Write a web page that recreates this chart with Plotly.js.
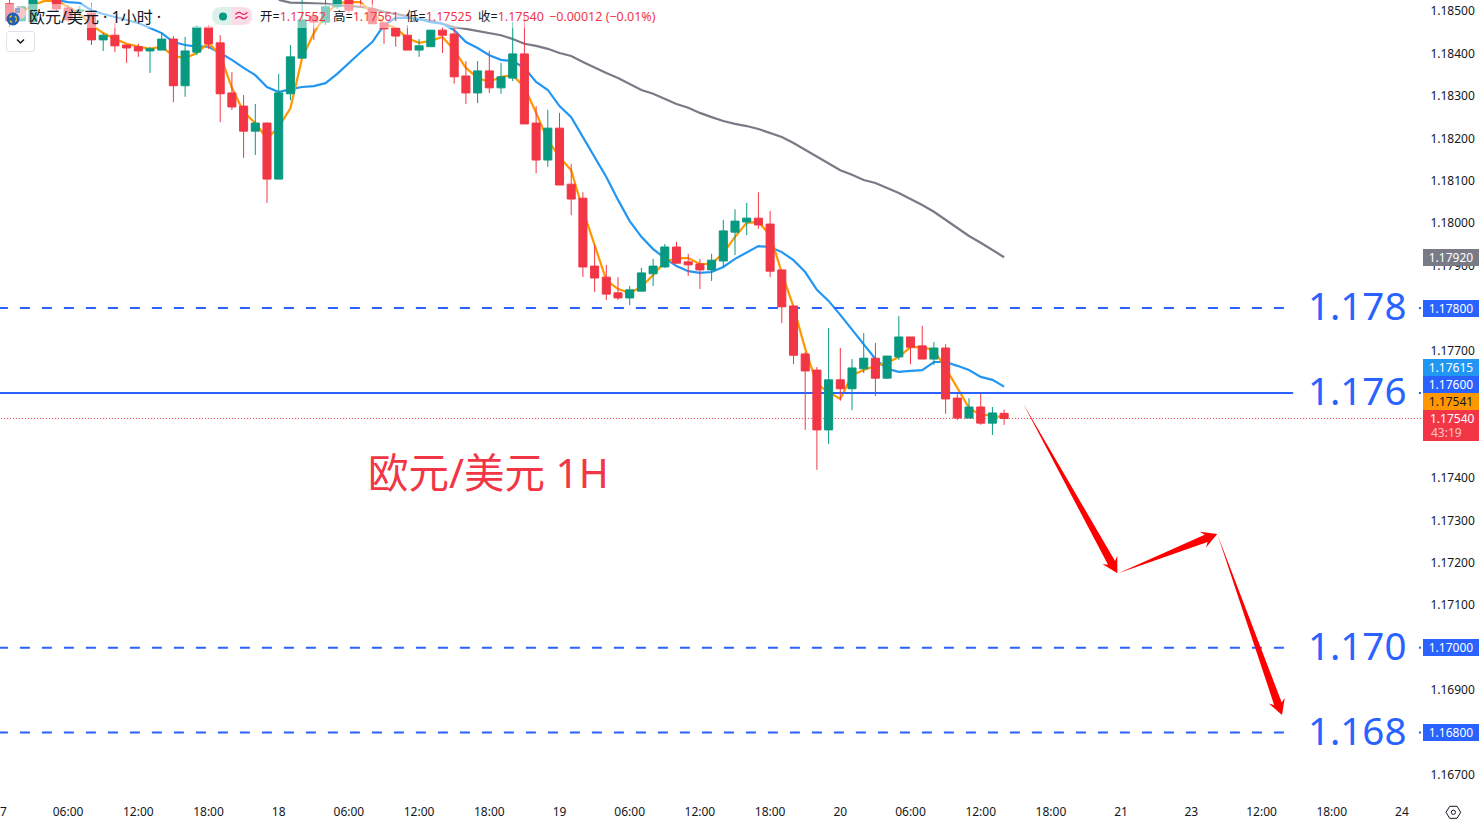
<!DOCTYPE html>
<html><head><meta charset="utf-8">
<script src="https://cdn.plot.ly/plotly-3.0.1.min.js"></script>
<style>html,body{margin:0;padding:0;background:#fff;overflow:hidden}</style>
</head><body><div id="chart" style="width:1482px;height:824px"></div>
<script>
const firstHour = -23;
const openPrices = [1.18517,1.18477,1.18474,1.18560,1.18540,1.18507,1.18500,1.18495,1.18432,1.18443,1.18420,1.18416,1.18406,1.18408,1.18434,1.18324,1.18403,1.18462,1.18425,1.18307,1.18276,1.18217,1.18236,1.18104,1.18305,1.18389,1.18488,1.18474,1.18510,1.18540,1.18545,1.18505,1.18472,1.18460,1.18443,1.18408,1.18416,1.18455,1.18446,1.18347,1.18307,1.18359,1.18319,1.18342,1.18399,1.18236,1.18149,1.18224,1.18092,1.18059,1.17899,1.17873,1.17836,1.17824,1.17840,1.17881,1.17897,1.17944,1.17909,1.17904,1.17890,1.17911,1.17979,1.18003,1.18012,1.17998,1.17890,1.17805,1.17692,1.17654,1.17513,1.17631,1.17610,1.17657,1.17682,1.17635,1.17685,1.17732,1.17711,1.17680,1.17706,1.17588,1.17541,1.17567,1.17529,1.17552];
const highPrices = [1.18530,1.18512,1.18545,1.18570,1.18550,1.18514,1.18512,1.18519,1.18448,1.18472,1.18420,1.18423,1.18416,1.18450,1.18441,1.18439,1.18467,1.18467,1.18443,1.18356,1.18302,1.18281,1.18238,1.18352,1.18420,1.18535,1.18488,1.18530,1.18545,1.18550,1.18550,1.18530,1.18472,1.18460,1.18467,1.18434,1.18455,1.18462,1.18460,1.18382,1.18382,1.18406,1.18378,1.18474,1.18488,1.18276,1.18267,1.18260,1.18140,1.18073,1.17949,1.17902,1.17873,1.17852,1.17895,1.17916,1.17951,1.17956,1.17928,1.17916,1.17928,1.18008,1.18033,1.18048,1.18073,1.18029,1.17890,1.17805,1.17696,1.17661,1.17753,1.17706,1.17680,1.17741,1.17718,1.17687,1.17781,1.17732,1.17758,1.17720,1.17715,1.17598,1.17588,1.17598,1.17567,1.17561];
const lowPrices = [1.18462,1.18475,1.18472,1.18535,1.18500,1.18475,1.18486,1.18420,1.18406,1.18403,1.18378,1.18392,1.18354,1.18408,1.18285,1.18298,1.18396,1.18411,1.18238,1.18267,1.18154,1.18161,1.18048,1.18104,1.18290,1.18389,1.18432,1.18467,1.18505,1.18495,1.18507,1.18470,1.18423,1.18416,1.18408,1.18392,1.18416,1.18401,1.18329,1.18281,1.18283,1.18307,1.18305,1.18335,1.18234,1.18118,1.18133,1.18090,1.18019,1.17873,1.17838,1.17819,1.17819,1.17807,1.17840,1.17852,1.17895,1.17904,1.17876,1.17845,1.17864,1.17897,1.17925,1.17972,1.17987,1.17873,1.17765,1.17668,1.17513,1.17419,1.17480,1.17582,1.17560,1.17647,1.17593,1.17633,1.17678,1.17668,1.17680,1.17666,1.17551,1.17536,1.17541,1.17525,1.17501,1.17525];
const closePrices = [1.18477,1.18510,1.18540,1.18545,1.18505,1.18479,1.18502,1.18432,1.18443,1.18418,1.18413,1.18406,1.18411,1.18434,1.18324,1.18406,1.18462,1.18423,1.18305,1.18274,1.18217,1.18236,1.18104,1.18307,1.18392,1.18479,1.18474,1.18510,1.18535,1.18502,1.18535,1.18470,1.18458,1.18441,1.18408,1.18418,1.18455,1.18443,1.18345,1.18307,1.18359,1.18319,1.18345,1.18399,1.18234,1.18149,1.18224,1.18090,1.18057,1.17897,1.17871,1.17833,1.17824,1.17843,1.17883,1.17899,1.17944,1.17906,1.17902,1.17890,1.17913,1.17982,1.18005,1.18012,1.17996,1.17887,1.17803,1.17689,1.17652,1.17513,1.17631,1.17610,1.17659,1.17682,1.17635,1.17687,1.17732,1.17708,1.17680,1.17706,1.17586,1.17541,1.17567,1.17529,1.17553,1.17540];
const orangeMA = [1.18502,1.18498,1.18514,1.18524,1.18524,1.18510,1.18493,1.18467,1.18448,1.18434,1.18423,1.18416,1.18411,1.18416,1.18394,1.18389,1.18401,1.18425,1.18396,1.18319,1.18262,1.18236,1.18199,1.18227,1.18271,1.18389,1.18448,1.18491,1.18519,1.18521,1.18521,1.18495,1.18470,1.18460,1.18436,1.18425,1.18430,1.18439,1.18408,1.18366,1.18342,1.18333,1.18345,1.18349,1.18321,1.18260,1.18196,1.18156,1.18125,1.18031,1.17946,1.17866,1.17845,1.17836,1.17850,1.17878,1.17909,1.17918,1.17918,1.17904,1.17904,1.17930,1.17968,1.18001,1.18003,1.17972,1.17883,1.17803,1.17704,1.17621,1.17602,1.17586,1.17642,1.17654,1.17664,1.17671,1.17685,1.17708,1.17708,1.17701,1.17659,1.17612,1.17565,1.17548,1.17548,1.17541];
const blueMA = [null,null,null,null,1.18526,1.18521,1.18519,1.18502,1.18493,1.18486,1.18479,1.18472,1.18460,1.18448,1.18427,1.18420,1.18416,1.18416,1.18401,1.18385,1.18366,1.18349,1.18321,1.18309,1.18316,1.18321,1.18323,1.18330,1.18352,1.18378,1.18403,1.18427,1.18467,1.18484,1.18484,1.18481,1.18474,1.18470,1.18455,1.18427,1.18413,1.18396,1.18385,1.18382,1.18366,1.18333,1.18314,1.18276,1.18250,1.18203,1.18156,1.18109,1.18055,1.18005,1.17968,1.17939,1.17918,1.17899,1.17887,1.17883,1.17885,1.17897,1.17916,1.17932,1.17946,1.17944,1.17932,1.17913,1.17885,1.17843,1.17817,1.17784,1.17749,1.17713,1.17680,1.17657,1.17650,1.17652,1.17654,1.17673,1.17673,1.17664,1.17654,1.17638,1.17631,1.17615];
const greyMA = [null,null,null,null,null,null,null,null,null,null,null,null,null,null,null,null,null,null,null,null,null,null,null,1.18526,1.18520,1.18519,1.18518,1.18517,1.18514,1.18512,1.18510,1.18505,1.18498,1.18493,1.18488,1.18481,1.18477,1.18470,1.18462,1.18458,1.18453,1.18448,1.18443,1.18434,1.18423,1.18418,1.18411,1.18401,1.18394,1.18380,1.18366,1.18354,1.18342,1.18328,1.18314,1.18305,1.18293,1.18281,1.18272,1.18260,1.18250,1.18241,1.18234,1.18229,1.18222,1.18213,1.18203,1.18189,1.18173,1.18156,1.18140,1.18125,1.18114,1.18102,1.18095,1.18083,1.18071,1.18057,1.18043,1.18027,1.18008,1.17989,1.17970,1.17954,1.17937,1.17920];

const xTickHours = [-18,-12,-6,0,6,12,18,24,30,36,42,48,54,60,66,72,78,84,90,96];
const xTickLabels = ['06:00','12:00','18:00','18','06:00','12:00','18:00','19','06:00','12:00','18:00','20','06:00','12:00','18:00','21','23','12:00','18:00','24'];
const yTickPrices = [1.185,1.184,1.183,1.182,1.181,1.18,1.179,1.177,1.174,1.173,1.172,1.171,1.169,1.167];
const dashedLevels = [1.178,1.17,1.168];
const dashedLabels = ['1.178','1.170','1.168'];
const solidLevel = 1.176;
const solidLabel = '1.176';
const lastPrice = 1.1754;
const arrowTailHour = [63.62,71.76,80.24];
const arrowTailPrice = [1.17575,1.17175,1.17266];
const arrowTipHour = [71.68,80.22,85.75];
const arrowTipPrice = [1.17175,1.17268,1.16841];
const badgeTexts = ['1.17920','1.17800','1.17615','1.17600','1.17541','1.16800','1.17000'];
const badgeColors = ['#787b86','#2962ff','#2196f3','#2962ff','#ff9800','#2962ff','#2962ff'];
const badgeInk = ['#fff','#fff','#fff','#fff','#131722','#fff','#fff'];
const badgeRows = [257.5,308.5,367.5,384.5,401.5,732.5,647.5];

const xRange = [-23.82,97.63], yRange = [1.16641,1.18526];
const plotW = 1421, plotH = 800, RED = '#f23645', GREEN = '#089981', BLUE = '#2962ff';
const FONT = '"Noto Sans","Noto Sans CJK SC",sans-serif';
const hours = openPrices.map((_, k) => k + firstHour);
const px = v => v / plotW, py = v => 1 - v / plotH;

function arrow(k) {
  const sx = plotW / (xRange[1] - xRange[0]), sy = plotH / (yRange[1] - yRange[0]);
  const dx = (arrowTipHour[k] - arrowTailHour[k]) * sx, dy = (arrowTipPrice[k] - arrowTailPrice[k]) * sy;
  const len = Math.hypot(dx, dy), ux = dx / len, uy = dy / len, nx = -uy, ny = ux;
  const at = (back, side) => [arrowTipHour[k] + (-ux * back + nx * side) / sx, arrowTipPrice[k] + (-uy * back + ny * side) / sy];
  const pts = [[arrowTailHour[k], arrowTailPrice[k]], at(12, 4), at(15.5, 8.5), [arrowTipHour[k], arrowTipPrice[k]], at(15.5, -8.5), at(12, -4), [arrowTailHour[k], arrowTailPrice[k]]];
  return {type:'scatter', mode:'lines', x:pts.map(p=>p[0]), y:pts.map(p=>p[1]), fill:'toself', fillcolor:'#ff0000',
    line:{width:0,color:'#ff0000'}, xaxis:'x2', yaxis:'y2', hoverinfo:'skip', showlegend:false};
}
const line = (x, y, color, width, dash) => ({type:'scatter', mode:'lines', x, y, line:{color, width, dash:dash||'solid'}, hoverinfo:'skip', showlegend:false, connectgaps:false});

const traces = [
  line(hours, greyMA, '#787b86', 2.2),
  line(hours, blueMA, '#2196f3', 2.2),
  line(hours, orangeMA, '#ff9800', 2.2),
  line([-24,97.63], [lastPrice,lastPrice], RED, 1, '1px,2px'),
  line([-24,86.7,null,97.45,97.63], [solidLevel,solidLevel,null,solidLevel,solidLevel], BLUE, 2),
];
dashedLevels.forEach(v => traces.push(line([-24,86.4,null,97.45,97.63], [v,v,null,v,v], BLUE, 2, '10px,12px')));
traces.push({type:'candlestick', x:hours, open:openPrices, high:highPrices, low:lowPrices, close:closePrices,
  xaxis:'x2', yaxis:'y2', whiskerwidth:0, hoverinfo:'skip', showlegend:false,
  increasing:{line:{color:GREEN,width:1}, fillcolor:GREEN}, decreasing:{line:{color:RED,width:1}, fillcolor:RED}});
[0,1,2].forEach(k => traces.push(arrow(k)));

const shapes = [];
const pshape = (o) => shapes.push(Object.assign({xref:'paper', yref:'paper', layer:'above'}, o));
const P = (x, y) => px(x) + ',' + py(y);
// translucent legend backdrop
pshape({type:'rect', x0:px(0), x1:px(660), y0:py(4), y1:py(28), fillcolor:'rgba(255,255,255,0.5)', line:{width:0}});
// US flag + euro flag icon
pshape({type:'circle', x0:px(14), x1:px(26), y0:py(7), y1:py(19), fillcolor:'#f3c9c9', line:{width:0}});
pshape({type:'rect', x0:px(15), x1:px(20), y0:py(8), y1:py(13), fillcolor:'#8fa6d6', line:{width:0}});
pshape({type:'circle', x0:px(6.5), x1:px(19.5), y0:py(12.5), y1:py(25.5), fillcolor:'#1f5fb4', line:{width:0}});
pshape({type:'circle', x0:px(9.5), x1:px(16.5), y0:py(15.5), y1:py(22.5), fillcolor:'rgba(0,0,0,0)', line:{color:'#f5c518',width:1.2,dash:'dot'}});
// dropdown button
pshape({type:'path', path:`M ${P(9,31.5)} L ${P(32,31.5)} Q ${P(34.5,31.5)} ${P(34.5,34)} L ${P(34.5,49)} Q ${P(34.5,51.5)} ${P(32,51.5)} L ${P(9,51.5)} Q ${P(6.5,51.5)} ${P(6.5,49)} L ${P(6.5,34)} Q ${P(6.5,31.5)} ${P(9,31.5)} Z`, fillcolor:'#fff', line:{color:'#e0e3eb',width:1}});
pshape({type:'path', path:`M ${P(17,39.5)} L ${P(20.5,43)} L ${P(24,39.5)}`, line:{color:'#131722',width:1.5}});
// status pill
pshape({type:'path', path:`M ${P(232,7)} L ${P(221,7)} Q ${P(212,7)} ${P(212,16)} Q ${P(212,25)} ${P(221,25)} L ${P(232,25)} Z`, fillcolor:'#dcf1ec', line:{width:0}});
pshape({type:'path', path:`M ${P(232,7)} L ${P(243,7)} Q ${P(252,7)} ${P(252,16)} Q ${P(252,25)} ${P(243,25)} L ${P(232,25)} Z`, fillcolor:'#fbdde7', line:{width:0}});
pshape({type:'circle', x0:px(219), x1:px(227), y0:py(12.5), y1:py(20.5), fillcolor:GREEN, line:{width:0}});
// settings hexagon
pshape({type:'path', path:`M ${P(1446,812.3)} L ${P(1449.7,806.3)} L ${P(1457,806.3)} L ${P(1460.7,812.3)} L ${P(1457,818.3)} L ${P(1449.7,818.3)} Z`, line:{color:'#131722',width:1}});
pshape({type:'circle', x0:px(1451.3), x1:px(1455.5), y0:py(810.2), y1:py(814.4), line:{color:'#131722',width:1}});
// countdown badge backdrop
pshape({type:'rect', x0:px(1423), x1:px(1479), y0:py(410), y1:py(441), fillcolor:RED, line:{width:0}});

const ann = [];
const note = (x, y, text, size, color, anchor, extra) => ann.push(Object.assign({xref:'paper', yref:'paper', x:px(x), y:py(y), text, showarrow:false,
  xanchor:anchor||'left', yanchor:'middle', borderpad:0, borderwidth:0, font:{family:FONT, size, color}}, extra||{}));
const red = s => `<span style="color:${RED}">${s}</span>`;
note(29, 17.5, '欧元/美元 · 1小时 ·', 16, '#131722');
note(241.5, 15.5, '≈', 17, '#e91e63', 'center');
note(260, 17, '开=' + red('1.17552'), 12.5, '#131722');
note(332.5, 17, '高=' + red('1.17561'), 12.5, '#131722');
note(405.5, 17, '低=' + red('1.17525'), 12.5, '#131722');
note(477.5, 17, '收=' + red('1.17540'), 12.5, '#131722');
note(549, 17, red('−0.00012 (−0.01%)'), 12.5, RED);
note(367.5, 472.5, '欧元/美元 1H', 40.5, RED);
note(3.5, 811.5, '7', 12, '#131722', 'center');
dashedLevels.forEach((v, k) => ann.push({xref:'paper', yref:'y', x:px(1356.5), y:v, text:dashedLabels[k], showarrow:false, xanchor:'center', yanchor:'middle', borderpad:0, font:{family:FONT,size:38.5,color:BLUE}, yshift:3}));
ann.push({xref:'paper', yref:'y', x:px(1356.5), y:solidLevel, text:solidLabel, showarrow:false, xanchor:'center', yanchor:'middle', borderpad:0, font:{family:FONT,size:38.5,color:BLUE}, yshift:3});
badgeTexts.forEach((t, k) => note(1451, badgeRows[k], t, 12, badgeInk[k], 'center', {bgcolor:badgeColors[k], width:56, height:17}));
note(1430, 418.5, '1.17540', 12, '#fff');
note(1431, 432.5, '43:19', 12, '#fbc5ca');

const layout = {
  width:1482, height:824, autosize:false, margin:{l:0,r:61,t:0,b:24}, paper_bgcolor:'#fff', plot_bgcolor:'#fff', showlegend:false,
  hovermode:false, boxgap:0.17, boxgroupgap:0.17, font:{family:FONT, size:12, color:'#131722'},
  xaxis:{range:xRange, showgrid:false, zeroline:false, showline:false, tickmode:'array', tickvals:xTickHours, ticktext:xTickLabels, ticks:'outside', ticklen:1, tickcolor:'rgba(0,0,0,0)', tickfont:{size:12,color:'#131722',family:FONT}, rangeslider:{visible:false}, fixedrange:true},
  yaxis:{range:yRange, side:'right', showgrid:false, zeroline:false, showline:false, tickmode:'array', tickvals:yTickPrices, ticktext:yTickPrices.map(v=>v.toFixed(5)), ticks:'outside', ticklen:6, tickcolor:'rgba(0,0,0,0)', tickfont:{size:12,color:'#131722',family:FONT}, fixedrange:true},
  xaxis2:{range:xRange, overlaying:'x', visible:false, rangeslider:{visible:false}, fixedrange:true},
  yaxis2:{range:yRange, overlaying:'y', side:'right', visible:false, fixedrange:true},
  shapes, annotations:ann
};
Plotly.newPlot('chart', traces, layout, {displayModeBar:false, staticPlot:true});
</script></body></html>
